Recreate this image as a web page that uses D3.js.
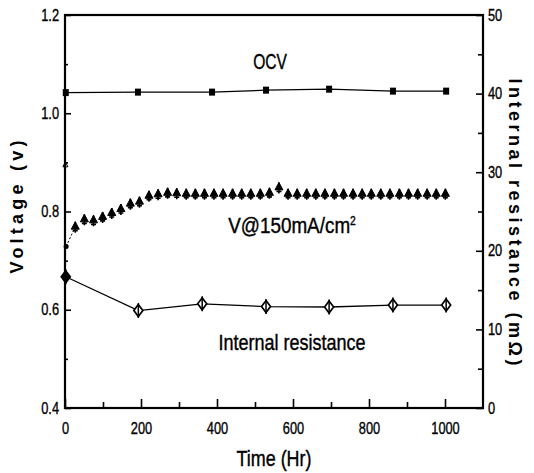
<!DOCTYPE html>
<html lang="en">
<head>
    <meta charset="UTF-8">
    <title>Voltage and internal resistance vs time</title>
    <style>
        body { margin: 0; background: #fff; }
        svg text { fill: #000; }
    </style>
</head>
<body>
    <div id="chart"></div>

    <script src="https://cdn.jsdelivr.net/npm/d3@7/dist/d3.min.js"></script>
    <script>

        // OCV (left axis, V)
        const ocvTime = [2, 192, 387, 529, 695, 863, 1003];
        const ocvVolt = [1.042, 1.043, 1.043, 1.047, 1.049, 1.045, 1.045];

        // V@150mA/cm2 (left axis, V)
        const loadTime = [27, 51, 75, 99, 123, 147, 172, 196, 221, 245, 270, 294, 319, 343, 367, 392, 416, 441,
            465, 489, 514, 538, 563, 587, 611, 636, 660, 684, 709, 733, 758, 782, 806, 831, 855, 880, 904, 928, 953, 977, 1001];
        const loadVolt = [0.769, 0.784, 0.782, 0.789, 0.797, 0.805, 0.816, 0.820, 0.832, 0.835, 0.838, 0.837, 0.836, 0.836, 0.836, 0.836, 0.836, 0.836,
            0.836, 0.836, 0.836, 0.838, 0.849, 0.836, 0.836, 0.836, 0.836, 0.836, 0.836, 0.836, 0.836, 0.836, 0.836, 0.836, 0.836, 0.836, 0.836, 0.836, 0.836, 0.836, 0.836];
        // first readings at start-up
        const startTime = [1, 3];
        const startVolt = [0.895, 0.729];

        // internal resistance (right axis, mOhm)
        const resTime = [2, 193, 361, 529, 695, 863, 1003];
        const resValue = [16.7, 12.4, 13.25, 12.9, 12.85, 13.1, 13.1];

        const xMajor = [0, 200, 400, 600, 800, 1000];
        const xMinor = [100, 300, 500, 700, 900];
        const yLeftMajor = [0.4, 0.6, 0.8, 1.0, 1.2];
        const yLeftMinor = [0.5, 0.7, 0.9, 1.1];
        const yRightMajor = [0, 10, 20, 30, 40, 50];
        const yRightMinor = [5, 15, 25, 35, 45];

        const W = 534, H = 473;
        const plotL = 65, plotR = 483, plotT = 15, plotB = 408;
        const face = "'Liberation Sans', Arial, sans-serif";

        const svg = d3.select("#chart")
            .append("svg")
            .attr("width", W)
            .attr("height", H);

        const x = d3.scaleLinear().domain([0, 1100]).range([plotL, plotR]);
        const yL = d3.scaleLinear().domain([0.4, 1.2]).range([plotB, plotT]);
        const yR = d3.scaleLinear().domain([0, 50]).range([plotB, plotT]);

        // squeeze text horizontally (the original uses a condensed face)
        function squeeze(sel, f) {
            sel.each(function () {
                const w = this.getComputedTextLength();
                if (w > 0) d3.select(this).attr("textLength", w * f).attr("lengthAdjust", "spacingAndGlyphs");
            });
        }

        // axes, ticks pointing inward
        function styleAxis(g) {
            g.select(".domain").remove();
            g.selectAll("line").attr("stroke", "#000").attr("stroke-width", 1.6);
            g.selectAll("text")
                .attr("font-family", face)
                .attr("font-size", 16)
                .attr("fill", "#000")
                .attr("stroke", "#000")
                .attr("stroke-width", 0.35)
                .call(squeeze, 0.8);
        }

        svg.append("g")
            .attr("transform", `translate(0,${plotB})`)
            .call(d3.axisBottom(x).tickValues(xMajor).tickSize(-9).tickPadding(15).tickFormat(d3.format("d")))
            .call(styleAxis);
        svg.append("g")
            .attr("transform", `translate(0,${plotB})`)
            .call(d3.axisBottom(x).tickValues(xMinor).tickSize(-6).tickFormat(""))
            .call(styleAxis);

        svg.append("g")
            .attr("transform", `translate(${plotL},0)`)
            .call(d3.axisLeft(yL).tickValues(yLeftMajor).tickSize(-6).tickPadding(6).tickFormat(d3.format(".1f")))
            .call(styleAxis);
        svg.append("g")
            .attr("transform", `translate(${plotL},0)`)
            .call(d3.axisLeft(yL).tickValues(yLeftMinor).tickSize(-3).tickFormat(""))
            .call(styleAxis);

        svg.append("g")
            .attr("transform", `translate(${plotR},0)`)
            .call(d3.axisRight(yR).tickValues(yRightMajor).tickSize(-7).tickPadding(5).tickFormat(d3.format("d")))
            .call(styleAxis);
        svg.append("g")
            .attr("transform", `translate(${plotR},0)`)
            .call(d3.axisRight(yR).tickValues(yRightMinor).tickSize(-5).tickFormat(""))
            .call(styleAxis);

        // frame
        svg.append("rect")
            .attr("x", plotL).attr("y", plotT)
            .attr("width", plotR - plotL).attr("height", plotB - plotT)
            .attr("fill", "none")
            .attr("stroke", "#000")
            .attr("stroke-width", 2.2);

        // OCV line + squares
        const ocv = ocvTime.map((t, i) => [x(t), yL(ocvVolt[i])]);
        svg.append("path")
            .attr("d", d3.line()(ocv))
            .attr("fill", "none").attr("stroke", "#000").attr("stroke-width", 1.3);
        svg.selectAll("rect.ocv")
            .data(ocv)
            .join("rect")
                .classed("ocv", true)
                .attr("x", (d) => d[0] - 3).attr("y", (d) => d[1] - 3.5)
                .attr("width", 6).attr("height", 7)
                .attr("fill", "#000");

        // internal resistance line + diamonds
        const res = resTime.map((t, i) => [x(t), yR(resValue[i])]);
        svg.append("path")
            .attr("d", d3.line()(res))
            .attr("fill", "none").attr("stroke", "#000").attr("stroke-width", 1.3);
        const dia = svg.selectAll("g.res")
            .data(res)
            .join("g")
                .classed("res", true)
                .attr("transform", (d) => `translate(${d[0]},${d[1]})`);
        dia.append("path")
            .attr("d", "M0,-6L4.5,0L0,6L-4.5,0Z")
            .attr("fill", (d, i) => i === 0 ? "#000" : "#fff")
            .attr("stroke", "#000").attr("stroke-width", 1.7);
        dia.append("path")
            .attr("d", "M0,-7.5V7.5")
            .attr("stroke", "#000").attr("stroke-width", 1.5);

        // V@150 triangles
        const load = loadTime.map((t, i) => [x(t), yL(loadVolt[i])]);
        const start = startTime.map((t, i) => [x(t), yL(startVolt[i])]);
        svg.append("path")
            .attr("d", d3.line()([start[1], load[0]]))
            .attr("fill", "none").attr("stroke", "#000").attr("stroke-width", 1)
            .attr("stroke-dasharray", "2,2");
        svg.append("circle")
            .attr("cx", start[1][0]).attr("cy", start[1][1]).attr("r", 2.5)
            .attr("fill", "#000");
        svg.append("path")
            .attr("transform", `translate(${start[0][0]},${start[0][1]})`)
            .attr("d", "M0,-3L2.5,2L-2.5,2Z")
            .attr("fill", "none").attr("stroke", "#000").attr("stroke-width", 1);
        const tri = svg.selectAll("g.load")
            .data(load)
            .join("g")
                .classed("load", true)
                .attr("transform", (d) => `translate(${d[0]},${d[1]})`);
        tri.append("path")
            .attr("d", "M0,-5L4,2.5L-4,2.5Z")
            .attr("fill", "#000").attr("stroke", "#000").attr("stroke-width", 1);
        tri.append("path")
            .attr("d", "M0,-5V6M-2.5,4H2.5")
            .attr("stroke", "#000").attr("stroke-width", 1.6);

        // series labels, condensed to the original widths
        function label(cx, y, width, size) {
            const t = svg.append("text")
                .attr("text-anchor", "middle")
                .attr("font-family", face)
                .attr("font-size", size)
                .attr("stroke", "#000")
                .attr("stroke-width", 0.4);
            return { t, cx, y, width };
        }
        function fit(l) {
            const w = l.t.node().getBBox().width;
            l.t.attr("transform", `translate(${l.cx},${l.y}) scale(${l.width / w},1)`);
        }

        const ocvLbl = label(270, 69, 34, 22);
        ocvLbl.t.text("OCV");
        fit(ocvLbl);

        const irLbl = label(292, 350, 147, 22);
        irLbl.t.text("Internal resistance");
        fit(irLbl);

        const vLbl = label(292, 233, 128, 22);
        vLbl.t.append("tspan").text("V@150mA/cm");
        vLbl.t.append("tspan").attr("dy", -8).attr("font-size", 12).text("2");
        fit(vLbl);

        // axis titles
        const tLbl = label(274, 466, 75, 22);
        tLbl.t.text("Time (Hr)");
        fit(tLbl);

        svg.append("text")
            .attr("transform", "translate(23,207) rotate(-90)")
            .attr("text-anchor", "middle")
            .attr("font-family", face)
            .attr("font-weight", "bold")
            .attr("font-size", 18)
            .attr("textLength", 133)
            .attr("lengthAdjust", "spacing")
            .text("Voltage (v)");

        svg.append("text")
            .attr("transform", "translate(509,222) rotate(90)")
            .attr("text-anchor", "middle")
            .attr("font-family", face)
            .attr("font-weight", "bold")
            .attr("font-size", 18)
            .attr("textLength", 287)
            .attr("lengthAdjust", "spacing")
            .text("Internal resistance (mΩ)");

    </script>
</body>
</html>
